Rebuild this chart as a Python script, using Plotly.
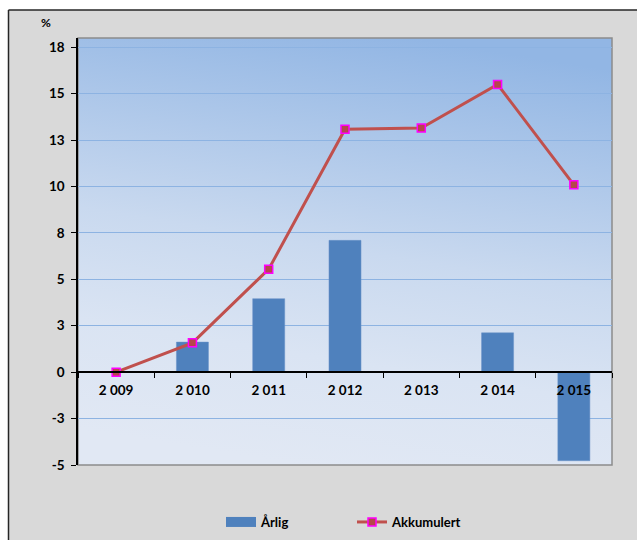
import base64
import plotly.graph_objects as go

# ---- data ----
years = ["2 009", "2 010", "2 011", "2 012", "2 013", "2 014", "2 015"]
arlig = [0.0, 1.62, 3.96, 7.10, 0.0, 2.12, -4.77]
akkumulert = [0.0, 1.58, 5.55, 13.08, 13.15, 15.5, 10.09]
y_tickvals = [-5, -2.5, 0, 2.5, 5, 7.5, 10, 12.5, 15, 17.5]
y_ticktext = ["-5", "-3", "0", "3", "5", "8", "10", "13", "15", "18"]

W, H = 637, 540
ML, MR, MT, MB = 78, 25, 38, 75
PW, PH = W - ML - MR, H - MT - MB

def px_x(x):
    return (x - ML) / PW

def px_y(y):
    return 1 - (y - MT) / PH

FONT = "Lato, 'Open Sans', sans-serif"

svg = (
    '<svg xmlns="http://www.w3.org/2000/svg" width="534" height="427" preserveAspectRatio="none">'
    '<defs><linearGradient id="g" x1="0.62" y1="0" x2="0.42" y2="1">'
    '<stop offset="0" stop-color="#92b6e4"/>'
    '<stop offset="0.5" stop-color="#c9d9ef"/>'
    '<stop offset="0.75" stop-color="#dae4f3"/>'
    '<stop offset="1" stop-color="#e1e8f4"/>'
    '</linearGradient></defs>'
    '<rect width="534" height="427" fill="url(#g)"/></svg>'
)
svg_uri = "data:image/svg+xml;base64," + base64.b64encode(svg.encode()).decode()

fig = go.Figure()
fig.add_trace(go.Bar(
    x=years, y=arlig, name="Årlig", showlegend=False,
    marker=dict(color="#4f81bd", line=dict(color="#6a93c8", width=0.5)),
))
# legend entry for the bars, drawn as a wide swatch like the original
fig.add_trace(go.Scatter(
    x=[None], y=[None], name="Årlig", mode="lines",
    line=dict(color="#4f81bd", width=10),
))
fig.add_trace(go.Scatter(
    x=years, y=akkumulert, name="Akkumulert", mode="lines+markers",
    line=dict(color="#c0504d", width=3),
    marker=dict(symbol="square", size=8, color="#b5474a",
                line=dict(color="#ff00ff", width=1.5)),
))

fig.update_layout(
    width=W, height=H,
    margin=dict(l=ML, r=MR, t=MT, b=MB, autoexpand=False),
    paper_bgcolor="#d9d9d9",
    plot_bgcolor="rgba(0,0,0,0)",
    bargap=0.58,
    font=dict(family=FONT, size=13, color="#000000", weight="bold"),
    showlegend=True,
    legend=dict(orientation="h", xref="container", x=221 / W, xanchor="left",
                yref="container", y=1 - 522 / H, yanchor="middle",
                bgcolor="rgba(0,0,0,0)", font=dict(size=13, weight="bold"),
                itemwidth=30, entrywidth=86, tracegroupgap=0),
    images=[dict(source=svg_uri, xref="paper", yref="paper", x=0, y=1,
                 sizex=1, sizey=1, xanchor="left", yanchor="top",
                 sizing="stretch", layer="below")],
    xaxis=dict(
        type="category", anchor="free", position=5 / 23,
        showline=True, linecolor="#000000", linewidth=1.5,
        ticks="outside", tickson="boundaries", ticklen=5, tickcolor="#000000",
        showgrid=False, tickfont=dict(size=13.5, weight="bold"),
        ticklabelstandoff=6, fixedrange=True,
    ),
    yaxis=dict(
        range=[-5, 18], tickvals=y_tickvals, ticktext=y_ticktext,
        showline=True, linecolor="#000000", linewidth=1.5,
        ticks="outside", ticklen=5, tickcolor="#000000",
        showgrid=True, gridcolor="#8db3e2", gridwidth=1.2,
        zeroline=False, tickfont=dict(size=13.5, weight="bold"),
        ticklabelstandoff=4, fixedrange=True,
    ),
    annotations=[dict(text="%", xref="paper", yref="paper",
                      x=px_x(46), y=px_y(23), xanchor="center", yanchor="middle",
                      showarrow=False, font=dict(size=12, weight="bold"))],
    shapes=[
        dict(type="rect", xref="paper", yref="paper", x0=0, x1=1, y0=0, y1=1,
             line=dict(color="#8c8c8c", width=1.5), layer="below"),
        dict(type="rect", xref="paper", yref="paper",
             x0=px_x(-5), x1=px_x(8), y0=px_y(545), y1=px_y(-5),
             fillcolor="white", line=dict(width=0), layer="above"),
        dict(type="rect", xref="paper", yref="paper",
             x0=px_x(-5), x1=px_x(645), y0=px_y(10), y1=px_y(-5),
             fillcolor="white", line=dict(width=0), layer="above"),
        dict(type="line", xref="paper", yref="paper",
             x0=px_x(8.5), x1=px_x(645), y0=px_y(10), y1=px_y(10),
             line=dict(color="#262626", width=1.5), layer="above"),
        dict(type="line", xref="paper", yref="paper",
             x0=px_x(8.5), x1=px_x(8.5), y0=px_y(10), y1=px_y(545),
             line=dict(color="#262626", width=1.5), layer="above"),
    ],
)

fig.write_html("out.html")
